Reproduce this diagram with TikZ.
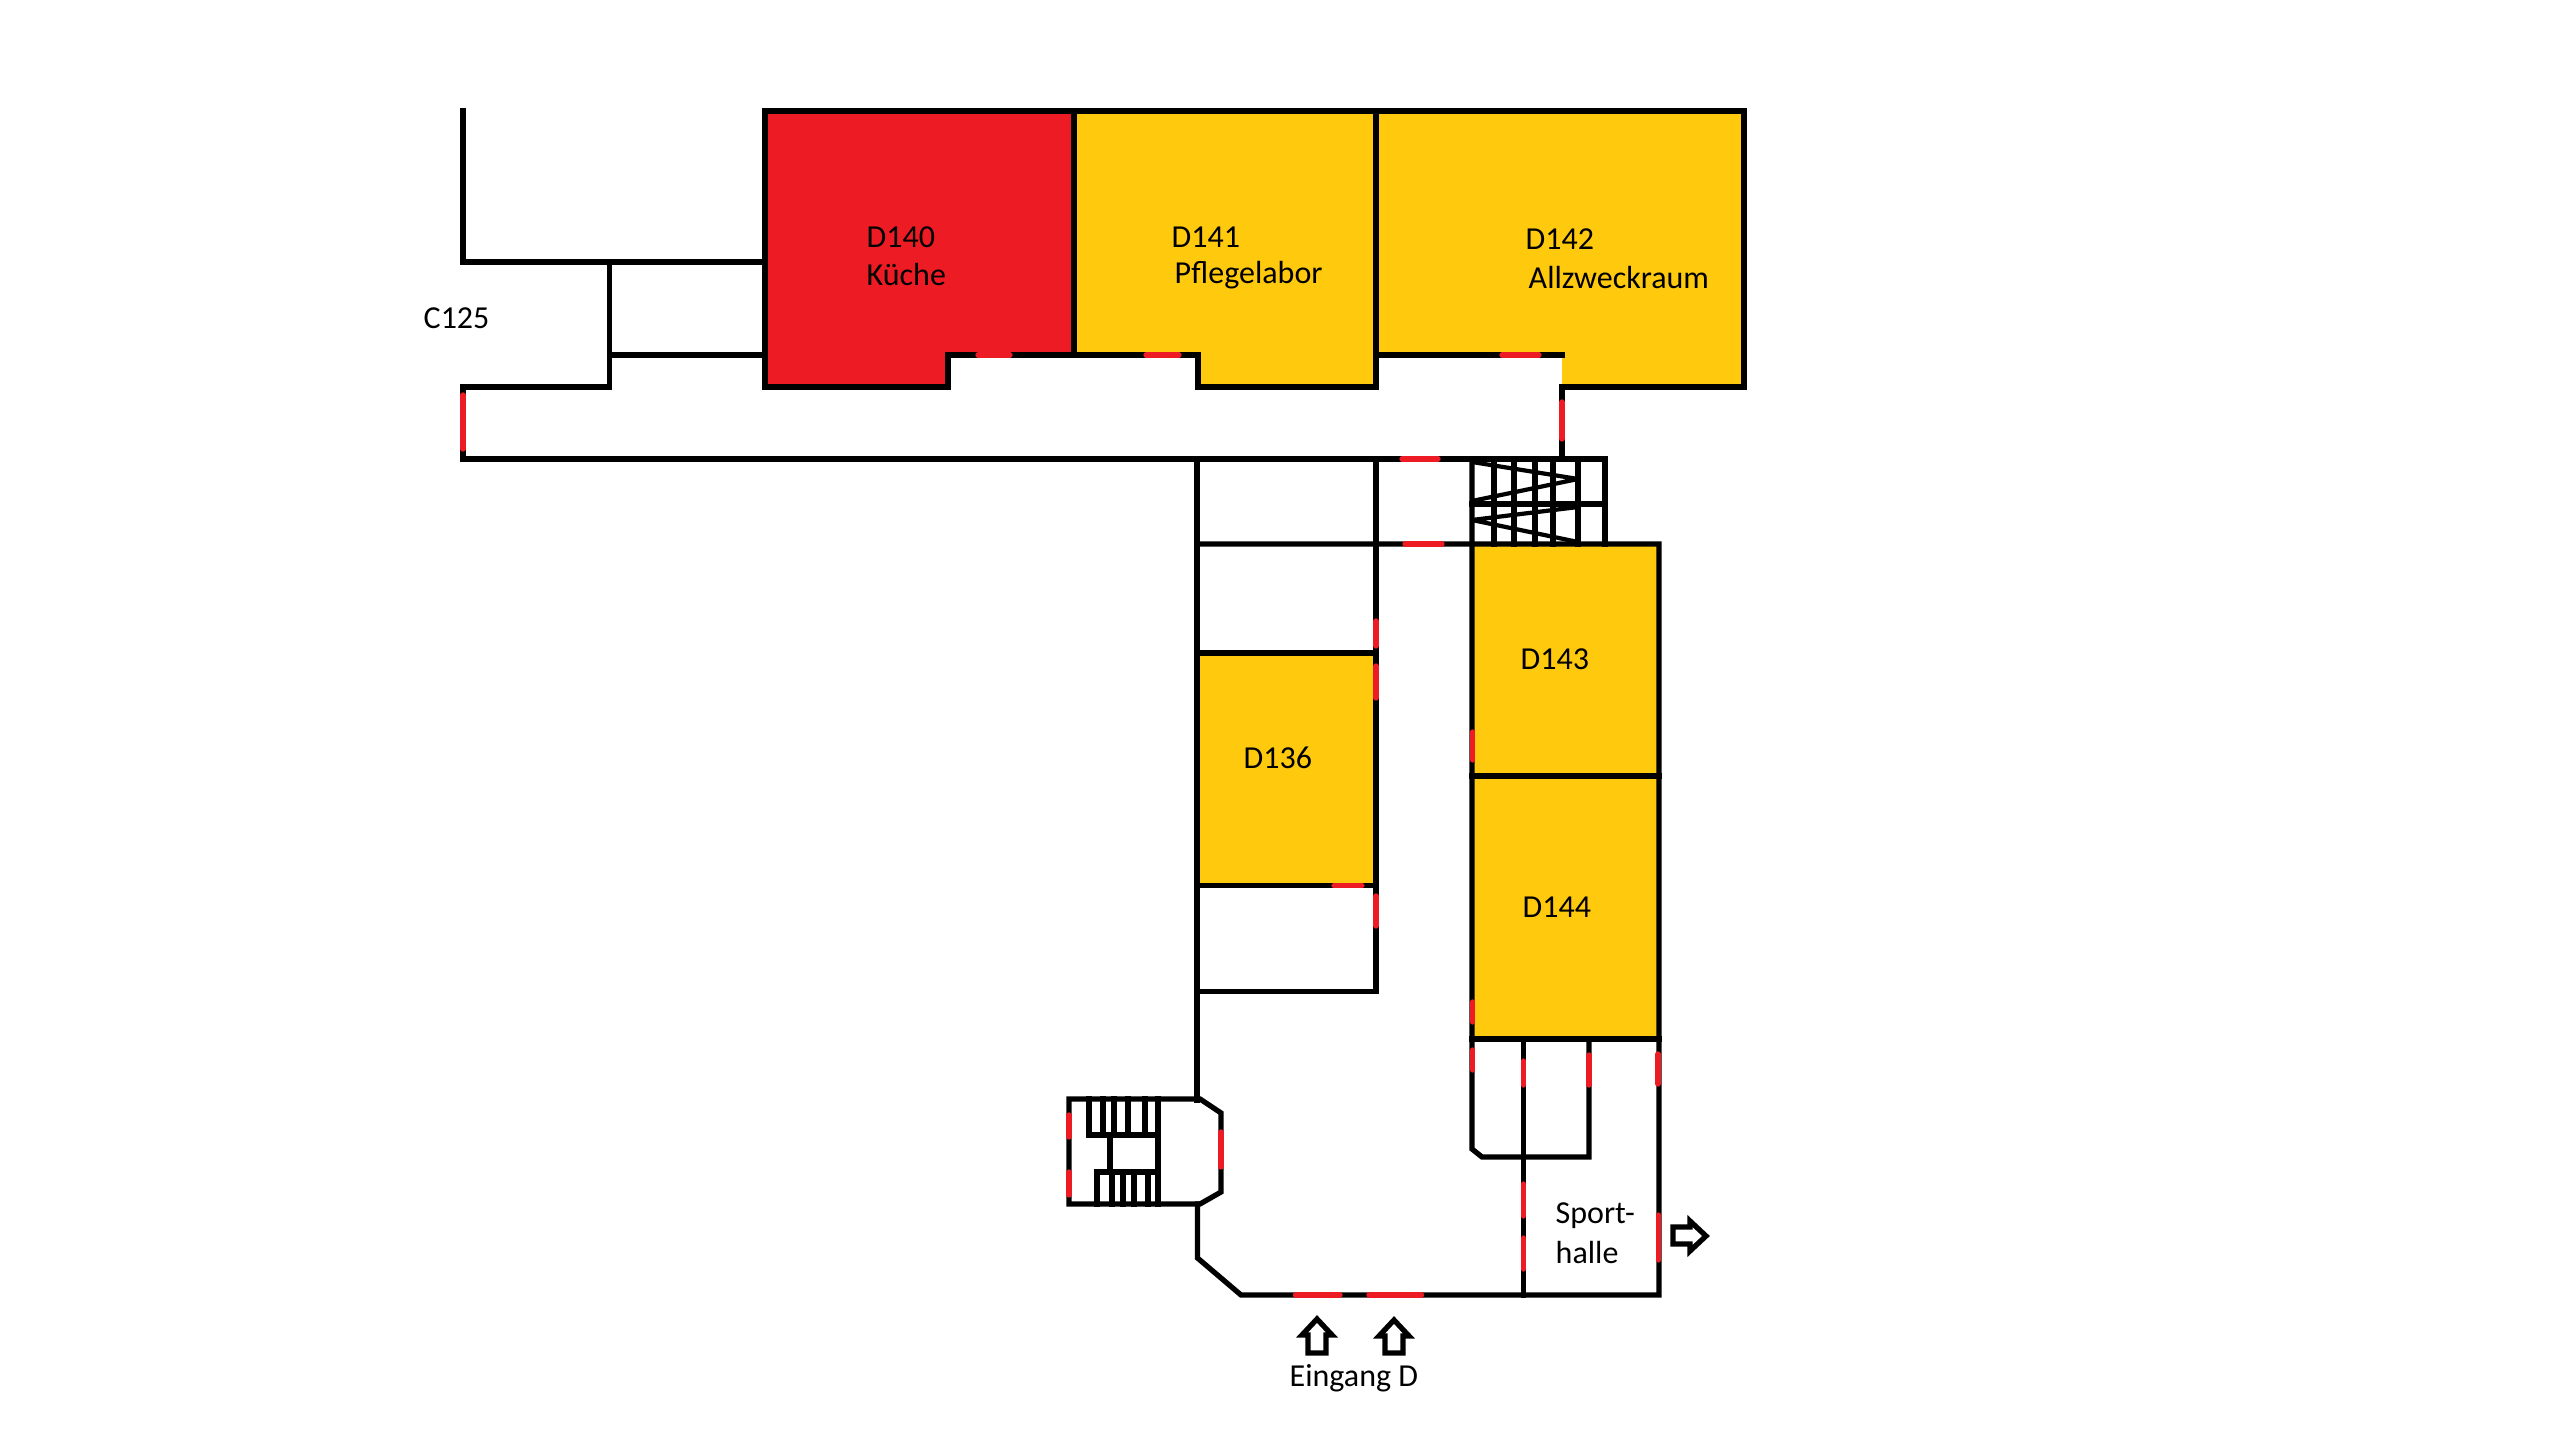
\documentclass[tikz,border=0pt]{standalone}
\usepackage{fontspec}
\setmainfont{Carlito}

\definecolor{roomred}{HTML}{ED1C24}
\definecolor{roomyellow}{HTML}{FFC90E}

\tikzset{
  wall/.style={line width=1.5pt, line cap=rect, line join=miter},
  thinwall/.style={line width=1.2pt, line join=bevel},
  door/.style={line width=1.5pt, color=roomred, line cap=round},
  exitarrow/.style={line width=1.5pt, line join=miter},
  roomlabel/.style={anchor=base west, inner sep=0pt, font=\fontsize{9.1}{11}\selectfont}
}

\begin{document}
\begin{tikzpicture}[x=0.01cm, y=-0.01cm]
  \useasboundingbox (0,0) rectangle (2560,1440);

  % rooms
  \fill
  [roomred]
  (765,111) -- (1074,111) -- (1074,355) -- (948,355) -- (948,387) -- (765,387) -- cycle;

  \fill
  [roomyellow]
  (1074,111) -- (1376,111) -- (1376,387) -- (1198,387) -- (1198,355) -- (1074,355) -- cycle;

  \fill
  [roomyellow]
  (1376,111) -- (1744,111) -- (1744,387) -- (1562,387) -- (1562,355) -- (1376,355) -- cycle;

  \fill
  [roomyellow]
  (1197,653) rectangle (1376,885.5);

  \fill
  [roomyellow]
  (1472,544) rectangle (1659,1039);

  % upper wing
  \draw
  [wall]
  (463,111) -- (463,262) -- (765,262);

  \draw
  [wall]
  (609.5,262) -- (609.5,387) -- (463,387) -- (463,459) -- (1605,459) -- (1605,544);

  \draw
  [wall]
  (609.5,355) -- (765,355);

  \draw
  [wall]
  (765,111) -- (1744,111) -- (1744,387) -- (1562,387) -- (1562,459);

  \draw
  [wall]
  (765,111) -- (765,387) -- (948,387) -- (948,355) -- (1198,355) -- (1198,387) -- (1376,387);

  \draw
  [wall]
  (1074,111) -- (1074,355);

  \draw
  [wall]
  (1376,111) -- (1376,387);

  \draw
  [wall]
  (1376,355) -- (1562,355);

  % lower wing
  \draw
  [wall]
  (1197,459) -- (1197,1100);

  \draw
  [wall]
  (1376,459) -- (1376,991.5) -- (1197,991.5);

  \draw
  [wall]
  (1197,544) -- (1659,544) -- (1659,1295) -- (1241,1295) -- (1197.5,1258) -- (1197.5,1204);

  \draw
  [wall]
  (1197,653) -- (1376,653);

  \draw
  [wall]
  (1197,885.5) -- (1376,885.5);

  \draw
  [wall]
  (1472,459) -- (1472,1149) -- (1482,1157) -- (1589,1157) -- (1589,1039);

  \draw
  [wall]
  (1472,776) -- (1659,776);

  \draw
  [wall]
  (1472,1039) -- (1659,1039);

  \draw
  [wall]
  (1523.5,1039) -- (1523.5,1295);

  % stairs top
  \draw
  [wall]
  (1494,459) -- (1494,544)
  (1514,459) -- (1514,544)
  (1535,459) -- (1535,544)
  (1553,459) -- (1553,544)
  (1578,459) -- (1578,544)
  (1472,504) -- (1605,504);

  \draw
  [thinwall]
  (1472,462) -- (1578,479) -- (1472,501);

  \draw
  [thinwall]
  (1578,507) -- (1472,520) -- (1578,542);

  % stairs bottom
  \draw
  [wall]
  (1200,1099) -- (1069,1099) -- (1069,1204) -- (1200,1204) -- (1221,1192) -- (1221,1113) -- cycle;

  \draw
  [wall]
  (1158,1099) -- (1158,1204);

  \draw
  [wall]
  (1089,1099) -- (1089,1135) -- (1158,1135)
  (1103,1099) -- (1103,1135)
  (1114,1099) -- (1114,1135)
  (1128,1099) -- (1128,1135)
  (1145,1099) -- (1145,1135);

  \draw
  [wall]
  (1110,1135) -- (1110,1172);

  \draw
  [wall]
  (1097,1204) -- (1097,1172) -- (1158,1172)
  (1112,1172) -- (1112,1204)
  (1123,1172) -- (1123,1204)
  (1134,1172) -- (1134,1204)
  (1148,1172) -- (1148,1204);

  % doors
  \draw [door] (463,395) -- (463,449);
  \draw [door] (978,355) -- (1010,355);
  \draw [door] (1146,355) -- (1179,355);
  \draw [door] (1502,355) -- (1539,355);
  \draw [door] (1562,402) -- (1562,439);
  \draw [door] (1402,459) -- (1438,459);
  \draw [door] (1405,544) -- (1442,544);
  \draw [door] (1376,621) -- (1376,646);
  \draw [door] (1376,666) -- (1376,698);
  \draw [door] (1376,896) -- (1376,926);
  \draw [door] (1334,885.5) -- (1362,885.5);
  \draw [door] (1472.5,732) -- (1472.5,760);
  \draw [door] (1472.5,1002) -- (1472.5,1022);
  \draw [door] (1472.5,1050) -- (1472.5,1070);
  \draw [door] (1523.5,1061) -- (1523.5,1085);
  \draw [door] (1523.5,1184) -- (1523.5,1216);
  \draw [door] (1523.5,1238) -- (1523.5,1269);
  \draw [door] (1589,1055) -- (1589,1085);
  \draw [door] (1658,1054) -- (1658,1084);
  \draw [door] (1658.5,1215) -- (1658.5,1260);
  \draw [door] (1295.5,1295) -- (1340,1295);
  \draw [door] (1369,1295) -- (1421.5,1295);
  \draw [door] (1221,1132) -- (1221,1167);
  \draw [door] (1069,1115) -- (1069,1137);
  \draw [door] (1069,1172) -- (1069,1195);

  % arrows
  \draw
  [exitarrow]
  (1317,1319) -- (1332,1335) -- (1326,1335) -- (1326,1353) -- (1308,1353) -- (1308,1335) -- (1302,1335) -- cycle;

  \draw
  [exitarrow]
  (1394,1320) -- (1409,1336) -- (1403,1336) -- (1403,1353) -- (1385,1353) -- (1385,1336) -- (1379,1336) -- cycle;

  \draw
  [exitarrow]
  (1706,1236) -- (1690,1251) -- (1690,1244) -- (1673,1244) -- (1673,1227) -- (1690,1227) -- (1690,1221) -- cycle;

  % labels
  \node
  [roomlabel]
  (kueche1) at (866,247.5) {D140};

  \node
  [roomlabel]
  (kueche2) at (866,285.5) {Küche};

  \node
  [roomlabel]
  (pflege1) at (1171,247.5) {D141};

  \node
  [roomlabel]
  (pflege2) at (1174,283.5) {Pflegelabor};

  \node
  [roomlabel]
  (allzweck1) at (1525,249.5) {D142};

  \node
  [roomlabel]
  (allzweck2) at (1528,288.5) {Allzweckraum};

  \node
  [roomlabel]
  (c125) at (423,328.5) {C125};

  \node
  [roomlabel]
  (d136) at (1243,768.5) {D136};

  \node
  [roomlabel]
  (d143) at (1520,669.5) {D143};

  \node
  [roomlabel]
  (d144) at (1522,917) {D144};

  \node
  [roomlabel]
  (sport1) at (1555,1223.5) {Sport-};

  \node
  [roomlabel]
  (sport2) at (1555,1263.5) {halle};

  \node
  [roomlabel]
  (eingang) at (1289,1386.5) {Eingang D};
\end{tikzpicture}
\end{document}
